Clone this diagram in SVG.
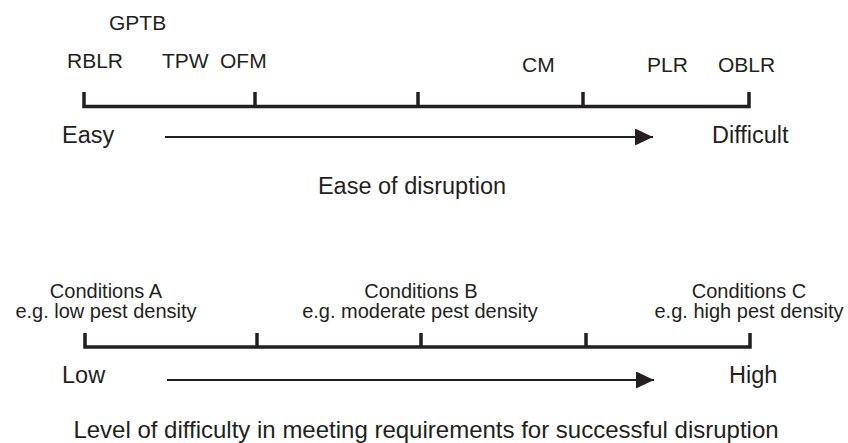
<svg xmlns="http://www.w3.org/2000/svg" width="848" height="443" viewBox="0 0 848 443">
  <style>
    text { font-family: "Liberation Sans", Arial, sans-serif; fill: #231f20; }
    .lab { font-size: 21px; }
    .cond { font-size: 20px; text-anchor: middle; }
    .end { font-size: 23.5px; }
    .cap { font-size: 23.5px; text-anchor: middle; }
    .cap-wide { font-size: 24px; text-anchor: middle; }
    .axis { fill: none; stroke: #231f20; stroke-width: 3.5; stroke-linejoin: miter; }
    .tick { stroke: #231f20; stroke-width: 3.5; }
    .arrow { stroke: #231f20; stroke-width: 2; marker-end: url(#head); }
  </style>
  <defs>
    <marker id="head" markerUnits="userSpaceOnUse" markerWidth="18" markerHeight="17" refX="18" refY="8.5" orient="auto">
      <path d="M0,0 L18,8.5 L0,17 Z" fill="#231f20"/>
    </marker>
  </defs>

  <rect width="848" height="443" fill="#ffffff"/>

  <!-- upper scale: methods placed by ease of disruption -->
  <g id="methods">
    <text class="lab" x="109" y="30">GPTB</text>
    <text class="lab" x="67" y="68">RBLR</text>
    <text class="lab" x="162" y="68">TPW</text>
    <text class="lab" x="220" y="68">OFM</text>
    <text class="lab" x="522" y="72">CM</text>
    <text class="lab" x="647" y="72">PLR</text>
    <text class="lab" x="718" y="72">OBLR</text>
  </g>
  <g id="easy"><text class="end" x="62" y="143">Easy</text></g>
  <g id="difficult"><text class="end" x="712" y="143">Difficult</text></g>
  <g id="ease-caption"><text class="cap" x="412" y="194">Ease of disruption</text></g>

  <!-- lower scale: conditions -->
  <g id="conditions-a">
    <text class="cond" x="106" y="298">Conditions A</text>
    <text class="cond" x="106" y="318">e.g. low pest density</text>
  </g>
  <g id="conditions-b">
    <text class="cond" x="421" y="298">Conditions B</text>
    <text class="cond" x="420" y="318">e.g. moderate pest density</text>
  </g>
  <g id="conditions-c">
    <text class="cond" x="749" y="298">Conditions C</text>
    <text class="cond" x="749" y="318">e.g. high pest density</text>
  </g>
  <g id="low"><text class="end" x="62" y="383">Low</text></g>
  <g id="high"><text class="end" x="729" y="383">High</text></g>
  <g id="level-caption"><text class="cap-wide" x="426" y="438">Level of difficulty in meeting requirements for successful disruption</text></g>

  <g id="connectors">
    <!-- upper axis -->
    <path class="axis" d="M84,92 V106.5 H749 V92"/>
    <line class="tick" x1="255" y1="92" x2="255" y2="106"/>
    <line class="tick" x1="418" y1="92" x2="418" y2="106"/>
    <line class="tick" x1="583" y1="92" x2="583" y2="106"/>
    <line class="arrow" x1="165" y1="137" x2="653" y2="137"/>

    <!-- lower axis -->
    <path class="axis" d="M85,333 V347 H750 V333"/>
    <line class="tick" x1="257" y1="333" x2="257" y2="347"/>
    <line class="tick" x1="421" y1="333" x2="421" y2="347"/>
    <line class="tick" x1="586" y1="333" x2="586" y2="347"/>
    <line class="arrow" x1="167" y1="380" x2="654" y2="380"/>
  </g>
</svg>
